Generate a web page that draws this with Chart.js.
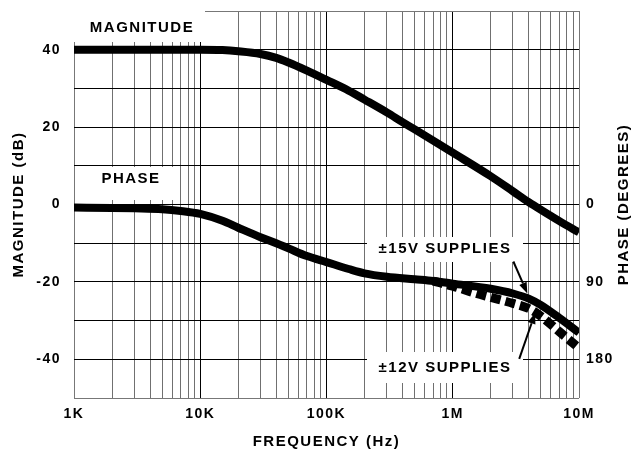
<!DOCTYPE html>
<html>
<head>
<meta charset="utf-8">
<script src="https://cdn.jsdelivr.net/npm/chart.js@4"></script>
<style>
  html, body { margin: 0; padding: 0; background: #fff; }
  #wrap { width: 635px; height: 449px; }
</style>
</head>
<body>
<div id="wrap"><canvas id="myChart" width="635" height="449"></canvas></div>
<script>
// magnitude response (dB) vs frequency (Hz)
var magFreq = [1e3, 2e3, 5e3, 1e4, 1.5e4, 2e4, 3e4, 4e4, 5e4, 7e4, 1e5, 1.5e5, 2e5, 3e5, 4e5, 5e5, 7e5, 1e6, 2e6, 3e6, 4e6, 5e6, 7e6, 1e7];
var magDb = [40, 40, 40, 40, 39.9, 39.6, 38.9, 37.9, 36.7, 34.6, 32.2, 29.4, 27.1, 23.8, 21.3, 19.4, 16.5, 13.4, 7.3, 3.4, 0.6, -1.4, -4.3, -7.2];

// phase (degrees), +/-15V supplies
var ph15Freq = [1e3, 2e3, 3e3, 5e3, 7e3, 1e4, 1.5e4, 2e4, 3e4, 4e4, 5e4, 7e4, 1e5, 1.5e5, 2e5, 3e5, 5e5, 7e5, 1e6, 2e6, 3e6, 4e6, 5e6, 7e6, 1e7];
var ph15Deg = [3.5, 4, 4.5, 5.5, 7.5, 11, 19, 27, 38, 45, 51, 60, 67, 75, 80, 84, 87, 89, 92, 98, 103.5, 109.5, 117, 132, 149];

// phase (degrees), +/-12V supplies (splits off above ~700K)
var ph12Freq = [7e5, 1e6, 1.5e6, 2e6, 3e6, 4e6, 5e6, 7e6, 1e7];
var ph12Deg = [89, 95, 103, 108, 115, 121, 130, 148, 167];

var xTickLabels = {1e3: '1K', 1e4: '10K', 1e5: '100K', 1e6: '1M', 1e7: '10M'};
var magTicks = [40, 20, 0, -20, -40];
var phaseTicks = [0, 90, 180];

function pts(xs, ys) {
  return xs.map(function(x, i) { return {x: x, y: ys[i]}; });
}

var FONT = 'Liberation Sans, Arial, sans-serif';
Chart.defaults.font.family = FONT;
Chart.defaults.font.weight = 'bold';
Chart.defaults.font.size = 14;
Chart.defaults.color = '#000';

function isDecade(v) {
  var l = Math.log10(v);
  return Math.abs(l - Math.round(l)) < 1e-9;
}

// drop the label overhang padding so the plot area lands where we want it
function noPad(s) {
  s.paddingTop = 0;
  s.paddingBottom = 0;
  s.paddingLeft = 0;
  s.paddingRight = 0;
}

var labelsPlugin = {
  id: 'labels',
  beforeDraw: function(chart) {
    chart.ctx.letterSpacing = '1.5px';
  },
  beforeDatasetsDraw: function(chart) {
    var ctx = chart.ctx, a = chart.chartArea;
    var boxes = [
      // [x, y, w, h, text, cx, cy] relative to chart area
      [0, 0, 131, 31, 'MAGNITUDE', 68, 17],
      [16, 156, 86, 33, 'PHASE', 57, 168],
      [293, 226, 156, 25, '\u00b115V SUPPLIES', 371, 238],
      [293, 341, 156, 31, '\u00b112V SUPPLIES', 371, 357]
    ];
    ctx.save();
    ctx.letterSpacing = '1.5px';
    boxes.forEach(function(b) {
      ctx.fillStyle = '#fff';
      ctx.fillRect(a.left + b[0], a.top + b[1], b[2], b[3]);
      ctx.fillStyle = '#000';
      ctx.font = 'bold 15px ' + FONT;
      ctx.textAlign = 'center';
      ctx.textBaseline = 'middle';
      ctx.fillText(b[4], a.left + b[5], a.top + b[6]);
    });
    ctx.restore();
  },
  afterDatasetsDraw: function(chart) {
    var ctx = chart.ctx, a = chart.chartArea;
    var xs = chart.scales.x, ys = chart.scales.y2;
    function arrow(x1, y1, x2, y2) {
      var ang = Math.atan2(y2 - y1, x2 - x1);
      var len = 11, half = 4;
      var bx = x2 - len * Math.cos(ang), by = y2 - len * Math.sin(ang);
      ctx.beginPath();
      ctx.moveTo(x1, y1);
      ctx.lineTo(bx, by);
      ctx.lineWidth = 2;
      ctx.strokeStyle = '#000';
      ctx.stroke();
      ctx.beginPath();
      ctx.moveTo(x2, y2);
      ctx.lineTo(bx + half * Math.sin(ang), by - half * Math.cos(ang));
      ctx.lineTo(bx - half * Math.sin(ang), by + half * Math.cos(ang));
      ctx.closePath();
      ctx.fillStyle = '#000';
      ctx.fill();
    }
    ctx.save();
    // arrow to the 15V curve
    var t15x = xs.getPixelForValue(3.9e6), t15y = ys.getPixelForValue(107) - 3;
    arrow(t15x - 14, t15y - 32, t15x, t15y);
    // arrow to the 12V curve
    var t12x = xs.getPixelForValue(4.5e6), t12y = ys.getPixelForValue(126);
    arrow(t12x - 16, t12y + 46, t12x, t12y);
    // right axis title, reading bottom to top
    ctx.translate(624, (a.top + a.bottom) / 2);
    ctx.rotate(-Math.PI / 2);
    ctx.letterSpacing = '1.5px';
    ctx.font = 'bold 15px ' + FONT;
    ctx.textAlign = 'center';
    ctx.textBaseline = 'middle';
    ctx.fillStyle = '#000';
    ctx.fillText('PHASE (DEGREES)', 0, 0);
    ctx.restore();
  }
};

var ctx = document.getElementById('myChart');
var myChart = new Chart(ctx, {
  type: 'line',
  data: {
    datasets: [
      {
        label: 'Magnitude',
        data: pts(magFreq, magDb),
        yAxisID: 'y',
        borderColor: '#000',
        borderWidth: 8,
        pointRadius: 0,
        cubicInterpolationMode: 'monotone',
        fill: false
      }, {
        label: 'Phase +/-15V',
        data: pts(ph15Freq, ph15Deg),
        yAxisID: 'y2',
        borderColor: '#000',
        borderWidth: 8,
        pointRadius: 0,
        cubicInterpolationMode: 'monotone',
        fill: false
      }, {
        label: 'Phase +/-12V',
        data: pts(ph12Freq, ph12Deg),
        yAxisID: 'y2',
        borderColor: '#000',
        borderWidth: 9,
        borderDash: [10, 5],
        pointRadius: 0,
        cubicInterpolationMode: 'monotone',
        fill: false
      }
    ]
  },
  options: {
    responsive: false,
    animation: false,
    layout: { padding: { top: 11 } },
    plugins: { legend: { display: false }, tooltip: { enabled: false } },
    scales: {
      x: {
        type: 'logarithmic',
        min: 1e3,
        max: 1e7,
        afterBuildTicks: function(s) {
          var t = [];
          for (var d = 1e3; d < 1e7; d *= 10) {
            for (var m = 1; m < 10; m++) t.push({value: m * d});
          }
          t.push({value: 1e7});
          s.ticks = t;
        },
        afterFit: function(s) { s.height = 51; noPad(s); },
        ticks: {
          autoSkip: false,
          maxRotation: 0,
          padding: 8,
          callback: function(v) { return xTickLabels[v] || ''; }
        },
        grid: {
          drawTicks: false,
          color: function(c) {
            var v = c.tick && c.tick.value;
            if (v === 1e3 || v === 1e7) return '#777';
            return isDecade(v) ? '#000' : '#707070';
          }
        },
        border: { display: false },
        title: {
          display: true,
          text: 'FREQUENCY (Hz)',
          font: { size: 15, lineHeight: 1 },
          padding: { top: 0, bottom: 0 }
        }
      },
      y: {
        position: 'left',
        min: -50,
        max: 50,
        afterBuildTicks: function(s) {
          var t = [];
          for (var v = 50; v >= -50; v -= 10) t.push({value: v});
          s.ticks = t;
        },
        afterFit: function(s) { s.width = 74; noPad(s); },
        ticks: {
          padding: 13,
          callback: function(v) { return magTicks.indexOf(v) >= 0 ? String(v) : ''; }
        },
        grid: {
          drawTicks: false,
          color: function(c) {
            var v = c.tick && c.tick.value;
            return (v === 50 || v === -50) ? '#777' : '#000';
          }
        },
        border: { display: false },
        title: {
          display: true,
          text: 'MAGNITUDE (dB)',
          font: { size: 15, lineHeight: 1 },
          padding: { top: 11, bottom: 0 }
        }
      },
      y2: {
        position: 'right',
        min: -225,
        max: 225,
        reverse: true,
        afterBuildTicks: function(s) {
          s.ticks = phaseTicks.map(function(v) { return {value: v}; });
        },
        afterFit: function(s) { s.width = 56; noPad(s); },
        ticks: { padding: 7 },
        grid: { display: false, drawTicks: false },
        border: { display: false }
      }
    }
  },
  plugins: [labelsPlugin]
});
</script>
</body>
</html>
